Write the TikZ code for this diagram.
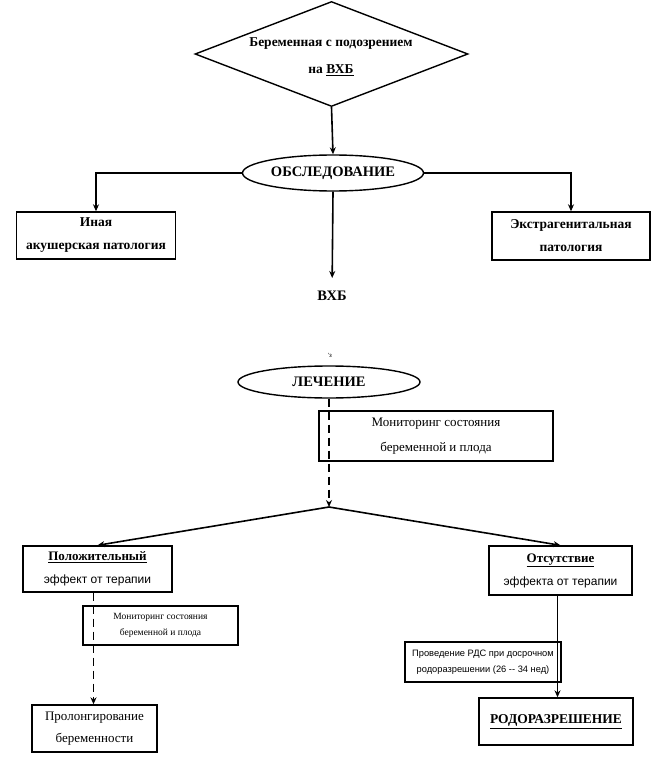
\documentclass[tikz,border=0pt]{standalone}
\usepackage{fontspec}
\setmainfont{Liberation Serif}
\newfontfamily\arialf{Liberation Sans}
\usetikzlibrary{shapes.geometric,arrows.meta}
\begin{document}
\begin{tikzpicture}[x=1pt,y=-1pt,
  line width=1.6pt,
  arr/.style={-{Stealth[length=7pt,width=6pt]}},
  dasharr/.style={-{Stealth[length=7pt,width=6pt]}, dash pattern=on 8pt off 5pt},
  box/.style={draw, line width=1.4pt, rectangle, align=center, inner sep=0pt},
  oval/.style={draw, line width=1.4pt, ellipse, inner sep=0pt},
  bft/.style={font=\bfseries\fontsize{13.5}{23}\selectfont},
]
\useasboundingbox (0,0) rectangle (658,762);
\fill[white] (0,0) rectangle (658,762);

% top part
\node[draw, line width=1.4pt, diamond, minimum width=273pt, minimum height=105pt, inner sep=0pt] (d) at (331.5,54) {};
\node[bft] (dt1) at (331,44) {Беременная с подозрением};
\node[bft] (dt2) at (331,70) {на \underline{ВХБ}};

\node[oval, minimum width=181pt, minimum height=36pt, font=\bfseries\fontsize{14.5}{16}\selectfont] (obs) at (333,173) {ОБСЛЕДОВАНИЕ};

\node[box, bft, minimum width=159pt, minimum height=47pt] (ina) at (96,235.5) {Иная\\акушерская патология};
\node[box, bft, minimum width=158pt, minimum height=48pt] (ext) at (571,236) {Экстрагенитальная\\патология};
\node[font=\bfseries\fontsize{14.5}{16}\selectfont] (vxb) at (332,296) {ВХБ};

\draw[arr] (d.south) -- (obs.north);
\draw[arr] (obs.west) -| (ina.north);
\draw[arr] (obs.east) -| (ext.north);
\draw[arr, shorten >=18pt] (obs.south) -- (vxb.center);

% bottom part
\node[font=\arialf\fontsize{6}{7}\selectfont] (mark) at (330,355) {'з};
\node[oval, minimum width=182pt, minimum height=32pt, font=\bfseries\fontsize{14.5}{16}\selectfont] (lech) at (329,382) {ЛЕЧЕНИЕ};
\node[box, minimum width=234pt, minimum height=50pt, font=\fontsize{13}{25}\selectfont] (mon1) at (436,436) {Мониторинг состояния\\беременной и плода};
\coordinate (split) at (329,507);
\draw[dasharr] (lech.south) -- (split);

\node[box, minimum width=149pt, minimum height=46pt, font=\fontsize{13}{23}\selectfont] (pos) at (97.5,569) {\textbf{\underline{Положительный}}\\{\arialf\fontsize{12}{14}\selectfont эффект от терапии}};
\node[box, minimum width=143pt, minimum height=49pt, font=\fontsize{13}{23}\selectfont] (neg) at (560.5,570.5) {\textbf{\underline{Отсутствие}}\\{\arialf\fontsize{12}{14}\selectfont эффекта от терапии}};
\draw[arr] (split) -- (pos.north);
\draw[arr] (split) -- (neg.north);

\node[box, minimum width=155pt, minimum height=39pt, font=\fontsize{9.5}{16}\selectfont] (mon2) at (160.5,625.5) {Мониторинг состояния\\беременной и плода};
\node[box, minimum width=125pt, minimum height=47pt, font=\fontsize{13}{22}\selectfont] (prol) at (94.5,728.5) {Пролонгирование\\беременности};
\draw[dasharr] ([xshift=-4pt]pos.south) -- ([xshift=-4pt]pos.south |- prol.north);

\node[box, minimum width=156pt, minimum height=40pt, font=\arialf\fontsize{9.3}{16}\selectfont] (rds) at (483,662) {Проведение РДС при досрочном\\родоразрешении (26 -- 34 нед)};
\node[box, minimum width=154pt, minimum height=47pt, font=\bfseries\fontsize{13.5}{16}\selectfont] (rod) at (556,721.5) {\raisebox{3pt}{\underline{РОДОРАЗРЕШЕНИЕ}}};
\draw[arr] ([xshift=-3pt]neg.south) -- ([xshift=-3pt]neg.south |- rod.north);
\end{tikzpicture}
\end{document}
